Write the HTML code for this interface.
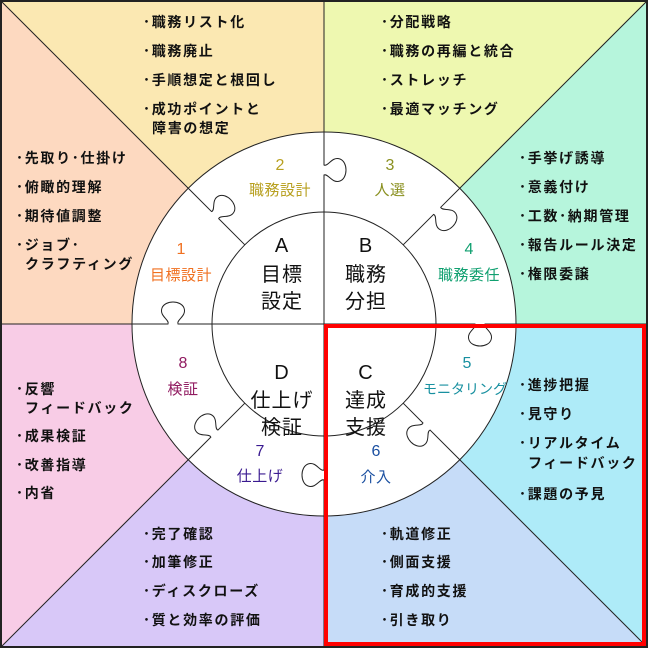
<!DOCTYPE html>
<html><head><meta charset="utf-8"><style>
html,body{margin:0;padding:0;background:#fff}
svg{display:block}
text{font-family:"Liberation Sans","Noto Sans CJK JP",sans-serif}
.l{font-size:14px;font-weight:bold;fill:#111;letter-spacing:1.7px}
.n{font-size:16px;text-anchor:middle}
.m{font-size:15px;text-anchor:middle;letter-spacing:0.5px}
.c{font-size:20px;text-anchor:middle;fill:#111;letter-spacing:1px}
</style></head><body>
<svg width="648" height="648" viewBox="0 0 648 648" xmlns="http://www.w3.org/2000/svg">
<polygon points="0,0 324,0 324,324" fill="#fbe8b2"/>
<polygon points="324,0 648,0 324,324" fill="#eef8b0"/>
<polygon points="648,0 648,324 324,324" fill="#b6f5dc"/>
<polygon points="648,324 648,648 324,324" fill="#aeebf8"/>
<polygon points="648,648 324,648 324,324" fill="#c6dcf8"/>
<polygon points="324,648 0,648 324,324" fill="#d8c8f8"/>
<polygon points="0,648 0,324 324,324" fill="#f8cce6"/>
<polygon points="0,324 0,0 324,324" fill="#fdd9c0"/>
<g stroke="#222" stroke-width="1" fill="none">
<line x1="0" y1="0" x2="648" y2="648"/><line x1="648" y1="0" x2="0" y2="648"/>
<line x1="324" y1="0" x2="324" y2="648"/><line x1="0" y1="324" x2="648" y2="324"/>
</g>
<circle cx="324" cy="324" r="192" fill="#fff" stroke="#222" stroke-width="1"/>
<circle cx="324" cy="324" r="112" fill="#fff" stroke="#222" stroke-width="1"/>
<g stroke="#222" stroke-width="1" fill="none">
<line x1="324" y1="212" x2="324" y2="436"/><line x1="212" y1="324" x2="436" y2="324"/>
</g>
<g stroke="#222" stroke-width="1" fill="none">
<path transform="translate(324,324) rotate(-90)" d="M112,0 H149 C151,4 140,8 143,16 C146,24 162,24 165,16 C168,8 157,4 159,0 H192"/>
<path transform="translate(324,324) rotate(180)" d="M112,0 H146 C148,4 137,8 140,16 C143,24 159,24 162,16 C165,8 154,4 156,0 H192"/>
<path transform="translate(324,324) rotate(-135)" d="M112,0 H149 C151,4 140,8 143,16 C146,24 162,24 165,16 C168,8 157,4 159,0 H192"/>
<path transform="translate(324,324) rotate(-45)" d="M112,0 H155 C157,4 146,8 149,16 C152,24 168,24 171,16 C174,8 163,4 165,0 H192"/>
<path transform="translate(324,324) rotate(0)" d="M112,0 H151 C153,4 142,8 145,16 C148,24 164,24 167,16 C170,8 159,4 161,0 H192"/>
<path transform="translate(324,324) rotate(45)" d="M112,0 H140 C142,4 131,8 134,16 C137,24 153,24 156,16 C159,8 148,4 150,0 H192"/>
<path transform="translate(324,324) rotate(90)" d="M112,0 H146 C148,4 137,8 140,16 C143,24 159,24 162,16 C165,8 154,4 156,0 H192"/>
<path transform="translate(324,324) rotate(135)" d="M112,0 H150 C152,4 141,8 144,16 C147,24 163,24 166,16 C169,8 158,4 160,0 H192"/>
</g>
<rect x="1" y="1" width="646" height="646" fill="none" stroke="#222" stroke-width="2"/>
<rect x="326" y="326" width="318" height="318" fill="none" stroke="#f00" stroke-width="4"/>

<g class="l">
<text x="143" y="27">･職務リスト化</text>
<text x="143" y="56">･職務廃止</text>
<text x="143" y="85">･手順想定と根回し</text>
<text x="143" y="114">･成功ポイントと</text>
<text x="152" y="133">障害の想定</text>
<text x="381" y="27">･分配戦略</text>
<text x="381" y="56">･職務の再編と統合</text>
<text x="381" y="85">･ストレッチ</text>
<text x="381" y="114">･最適マッチング</text>
<text x="16" y="163">･先取り･仕掛け</text>
<text x="16" y="192">･俯瞰的理解</text>
<text x="16" y="221">･期待値調整</text>
<text x="16" y="250">･ジョブ･</text>
<text x="25" y="269">クラフティング</text>
<text x="519" y="163">･手挙げ誘導</text>
<text x="519" y="192">･意義付け</text>
<text x="519" y="221">･工数･納期管理</text>
<text x="519" y="250">･報告ルール決定</text>
<text x="519" y="279">･権限委譲</text>
<text x="16" y="394">･反響</text>
<text x="25" y="413">フィードバック</text>
<text x="16" y="441">･成果検証</text>
<text x="16" y="470">･改善指導</text>
<text x="16" y="498">･内省</text>
<text x="519" y="390">･進捗把握</text>
<text x="519" y="419">･見守り</text>
<text x="519" y="448">･リアルタイム</text>
<text x="528" y="468">フィードバック</text>
<text x="519" y="499">･課題の予見</text>
<text x="143" y="539">･完了確認</text>
<text x="143" y="567">･加筆修正</text>
<text x="143" y="596">･ディスクローズ</text>
<text x="143" y="625">･質と効率の評価</text>
<text x="381" y="539">･軌道修正</text>
<text x="381" y="567">･側面支援</text>
<text x="381" y="596">･育成的支援</text>
<text x="381" y="625">･引き取り</text>
</g>

<g>
<text class="n" x="181" y="254" fill="#f07020">1</text><text class="m" x="181" y="280" fill="#f07020">目標設計</text>
<text class="n" x="280" y="170" fill="#b8a020">2</text><text class="m" x="280" y="195" fill="#b8a020">職務設計</text>
<text class="n" x="390" y="170" fill="#8a9020">3</text><text class="m" x="390" y="195" fill="#8a9020">人選</text>
<text class="n" x="469" y="254" fill="#10a070">4</text><text class="m" x="469" y="280" fill="#10a070">職務委任</text>
<text class="n" x="467" y="368" fill="#1890a0">5</text><text class="m" x="465" y="394" fill="#1890a0" style="font-size:14px;letter-spacing:0">モニタリング</text>
<text class="n" x="376" y="456" fill="#1a4fa0">6</text><text class="m" x="376" y="482" fill="#1a4fa0">介入</text>
<text class="n" x="260" y="456" fill="#3a1a90">7</text><text class="m" x="260" y="481" fill="#3a1a90">仕上げ</text>
<text class="n" x="183" y="368" fill="#901a60">8</text><text class="m" x="183" y="394" fill="#901a60">検証</text>
</g>

<g class="c">
<text x="282" y="252">A</text><text x="282" y="281">目標</text><text x="282" y="308">設定</text>
<text x="366" y="252">B</text><text x="366" y="281">職務</text><text x="366" y="308">分担</text>
<text x="282" y="379">D</text><text x="282" y="407">仕上げ</text><text x="282" y="434">検証</text>
<text x="366" y="379">C</text><text x="366" y="407">達成</text><text x="366" y="434">支援</text>
</g>
</svg>
</body></html>
